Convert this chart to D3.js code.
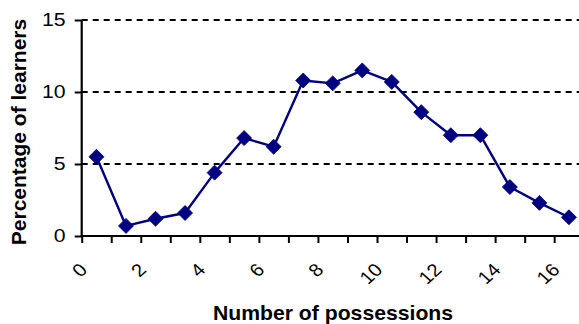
<!DOCTYPE html>
<html>
<head>
<meta charset="utf-8">
<script src="https://cdn.jsdelivr.net/npm/d3@7"></script>
<style>
  html, body { margin: 0; padding: 0; background: #fff; }
  svg { display: block; }
  text { font-family: "Liberation Sans", Arial, sans-serif; fill: #000; }
</style>
</head>
<body>
<svg id="chart" width="579" height="324"></svg>
<script>
// Number of possessions (categories) and share of learners (%)
const categories = [0, 1, 2, 3, 4, 5, 6, 7, 8, 9, 10, 11, 12, 13, 14, 15, 16];
const percentages = [5.5, 0.7, 1.2, 1.6, 4.4, 6.8, 6.2, 10.8, 10.6, 11.5, 10.7, 8.6, 7.0, 7.0, 3.4, 2.3, 1.3];
const xTickLabels = ["0", "2", "4", "6", "8", "10", "12", "14", "16"];
const yTicks = [0, 5, 10, 15];
const yGridLines = [5, 10, 15];
const xTitle = "Number of possessions";
const yTitle = "Percentage of learners";

const svg = d3.select("#chart");
const W = 579;
const plot = { left: 81.7, top: 20, bottom: 236 };
const bandW = 29.53;
plot.right = plot.left + bandW * categories.length;

const x = d3.scaleBand()
  .domain(categories)
  .range([plot.left, plot.right])
  .padding(0);
const xEdge = d3.scaleLinear()
  .domain([0, categories.length])
  .range([plot.left, plot.right]);
const y = d3.scaleLinear().domain([0, 15]).range([plot.bottom, plot.top]);

// dashed horizontal gridlines
svg.append("g")
  .selectAll("line")
  .data(yGridLines)
  .join("line")
  .attr("x1", plot.left)
  .attr("x2", W)
  .attr("y1", d => y(d))
  .attr("y2", d => y(d))
  .attr("stroke", "#000")
  .attr("stroke-width", 2)
  .attr("stroke-dasharray", "6,5");

// y axis (ticks from the axis generator, labels drawn slightly widened)
const yAxis = svg.append("g")
  .attr("transform", `translate(${plot.left},0)`)
  .call(d3.axisLeft(y).tickValues(yTicks).tickSize(7).tickFormat(""));
yAxis.select(".domain").attr("stroke", "#000").attr("stroke-width", 2.2)
  .attr("d", `M0,${y(15)}V${plot.bottom + 1}`);
yAxis.selectAll(".tick line").attr("stroke", "#000").attr("stroke-width", 2);

svg.append("g")
  .selectAll("text")
  .data(yTicks)
  .join("text")
  .attr("transform", d => `translate(65.5,${y(d)}) scale(1.18,1)`)
  .attr("text-anchor", "end")
  .attr("dy", "0.35em")
  .style("font-size", "18px")
  .text(d => d3.format("d")(d));

// x axis: tick marks on category boundaries
const xAxis = svg.append("g")
  .attr("transform", `translate(0,${plot.bottom})`)
  .call(d3.axisBottom(xEdge).tickValues(d3.range(categories.length + 1)).tickSize(7).tickFormat(""));
xAxis.select(".domain").attr("stroke", "#000").attr("stroke-width", 2.2)
  .attr("d", `M${plot.left - 1},0H${W}`);
xAxis.selectAll(".tick line").attr("stroke", "#000").attr("stroke-width", 2);

// rotated category labels (every second category)
svg.append("g")
  .selectAll("text")
  .data(xTickLabels)
  .join("text")
  .attr("transform", d => {
    const cx = x(+d) + x.bandwidth() / 2 - 13;
    return `translate(${cx},266.5) scale(1.12,1) rotate(-45)`;
  })
  .attr("text-anchor", "end")
  .attr("dy", "0.35em")
  .style("font-size", "18px")
  .text(d => d);

// series line
const line = d3.line()
  .x((d, i) => x(categories[i]) + x.bandwidth() / 2)
  .y(d => y(d));
svg.append("path")
  .datum(percentages)
  .attr("d", line)
  .attr("fill", "none")
  .attr("stroke", "#000080")
  .attr("stroke-width", 2.4)
  .attr("stroke-linejoin", "round");

// diamond markers
const diamond = d3.symbol().type(d3.symbolSquare).size(112);
svg.append("g")
  .selectAll("path")
  .data(percentages)
  .join("path")
  .attr("transform", (d, i) => `translate(${x(categories[i]) + x.bandwidth() / 2},${y(d)}) rotate(45)`)
  .attr("d", diamond)
  .attr("fill", "#000080")
  .attr("stroke", "#000080")
  .attr("stroke-width", 0.8);

// axis titles
svg.append("text")
  .attr("transform", "translate(333,320) scale(1.06,1)")
  .attr("text-anchor", "middle")
  .style("font-size", "20px")
  .style("font-weight", "bold")
  .text(xTitle);

svg.append("text")
  .attr("transform", `translate(26,132) rotate(-90)`)
  .attr("text-anchor", "middle")
  .style("font-size", "21px")
  .style("font-weight", "bold")
  .text(yTitle);
</script>
</body>
</html>
